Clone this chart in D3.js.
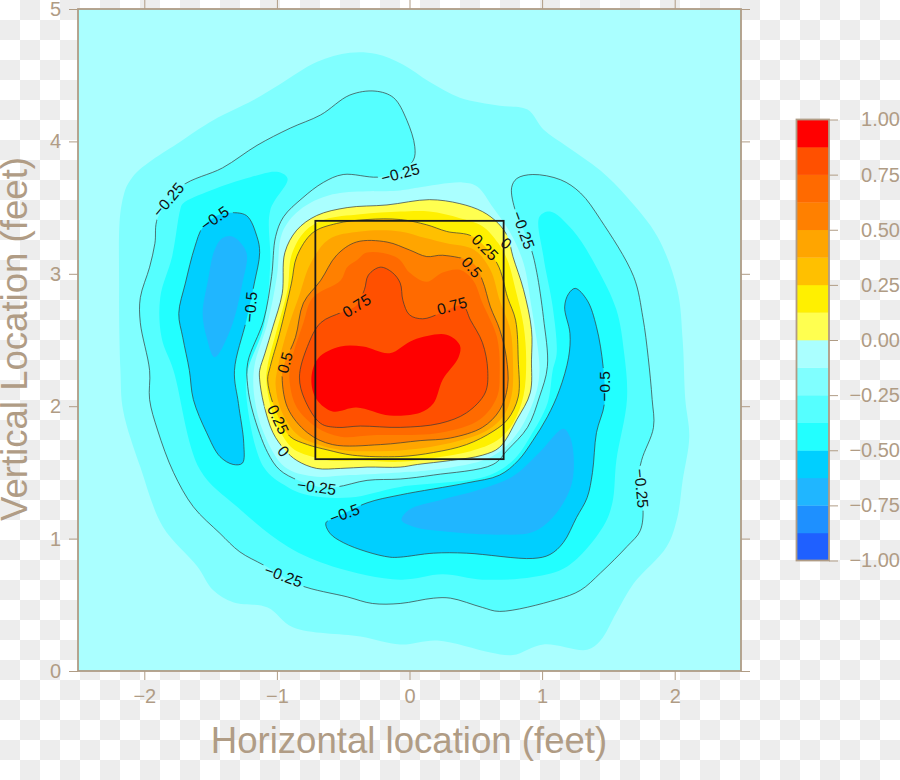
<!DOCTYPE html>
<html><head><meta charset="utf-8">
<script src="https://cdn.jsdelivr.net/npm/d3@7/dist/d3.min.js"></script>
<style>html,body{margin:0;padding:0;background:#fff}svg{display:block}text{font-family:"Liberation Sans",Arial,sans-serif}</style>
</head><body><div id="chart"></div>
<script>
// Colour-key breaks and colours, from -1 up to 1
const keyBreaks = [-1,-0.875,-0.75,-0.625,-0.5,-0.375,-0.25,-0.125,0,0.125,0.25,0.375,0.5,0.625,0.75,0.875,1];
const keyColors = ["#1F60FF","#1E90FF","#20B6FF","#00CFFF","#22FFFF","#55FFFF","#80FFFF","#AAFFFF","#FFFF50","#FFF000","#FFC000","#FFA500","#FF8000","#FF6A00","#FF5000","#FF0000"];
const keyTicks = [-1,-0.75,-0.5,-0.25,0,0.25,0.5,0.75,1];
const xTicks = [-2,-1,0,1,2];
const yTicks = [0,1,2,3,4,5];
const strikeZoneX = [-0.71,0.71];
const strikeZoneY = [1.6,3.4];

// Iso-lines: [horizontal ft, vertical ft]
const isoM0125Outer = [[-0.98,4.43],[-0.70,4.60],[-0.45,4.67],[-0.25,4.66],[-0.05,4.58],[0.15,4.45],[0.38,4.33],[0.68,4.27],[0.89,4.24],[1.01,4.09],[1.19,3.96],[1.44,3.78],[1.64,3.58],[1.87,3.28],[2.02,2.88],[2.06,2.50],[2.08,2.05],[2.11,1.77],[2.06,1.44],[2.02,1.16],[1.94,0.94],[1.69,0.66],[1.56,0.44],[1.44,0.23],[1.34,0.16],[1.01,0.20],[0.78,0.12],[0.61,0.14],[0.21,0.23],[-0.07,0.20],[-0.37,0.26],[-0.88,0.33],[-1.07,0.48],[-1.33,0.52],[-1.48,0.61],[-1.60,0.79],[-1.86,1.09],[-2.03,1.54],[-2.16,1.97],[-2.18,2.27],[-2.19,2.88],[-2.17,3.53],[-2.09,3.73],[-1.71,4.01],[-1.48,4.16],[-1.18,4.31]];
const isoM025 = [[-1.90,3.42],[-1.72,3.66],[-1.41,3.80],[-1.15,3.97],[-0.90,4.10],[-0.67,4.20],[-0.45,4.35],[-0.26,4.38],[-0.12,4.33],[-0.02,4.16],[0.04,3.96],[0.03,3.86],[-0.07,3.77],[-0.24,3.73],[-0.50,3.75],[-0.65,3.69],[-0.81,3.57],[-0.95,3.43],[-1.01,3.28],[-1.04,2.98],[-1.10,2.65],[-1.22,2.33],[-1.22,2.15],[-1.18,1.95],[-1.07,1.65],[-0.98,1.52],[-0.84,1.44],[-0.68,1.39],[-0.55,1.39],[-0.32,1.44],[-0.07,1.45],[0.18,1.48],[0.63,1.56],[0.74,1.67],[0.89,1.84],[0.98,2.07],[1.04,2.30],[1.01,2.67],[0.96,3.01],[0.92,3.18],[0.86,3.33],[0.80,3.47],[0.77,3.65],[0.81,3.72],[0.93,3.75],[1.14,3.71],[1.29,3.61],[1.44,3.41],[1.69,2.98],[1.76,2.67],[1.80,2.37],[1.83,2.05],[1.84,1.84],[1.75,1.59],[1.72,1.40],[1.76,1.24],[1.74,1.06],[1.64,0.94],[1.44,0.74],[1.29,0.61],[1.11,0.54],[0.68,0.45],[0.55,0.48],[0.31,0.55],[0.18,0.55],[-0.07,0.51],[-0.28,0.51],[-0.47,0.56],[-0.83,0.65],[-1.10,0.80],[-1.28,0.90],[-1.43,1.04],[-1.63,1.24],[-1.78,1.50],[-1.90,1.82],[-1.96,2.05],[-1.96,2.27],[-2.03,2.63],[-2.03,2.82],[-1.96,3.05],[-1.92,3.23]];
const isoM0375 = [[-0.92,3.72],[-1.05,3.48],[-1.05,3.08],[-1.10,2.60],[-1.22,2.27],[-1.23,2.07],[-1.10,1.54],[-0.92,1.39],[-0.77,1.33],[-0.45,1.31],[-0.07,1.39],[0.58,1.47],[0.78,1.59],[0.91,1.77],[1.04,2.02],[1.08,2.27],[1.11,2.40],[1.08,2.75],[1.01,3.13],[0.98,3.43],[1.06,3.47],[1.23,3.33],[1.41,3.05],[1.56,2.73],[1.62,2.39],[1.64,2.05],[1.56,1.59],[1.53,1.27],[1.46,1.09],[1.19,0.79],[0.93,0.71],[0.55,0.69],[0.25,0.73],[-0.07,0.69],[-0.58,0.79],[-0.92,0.94],[-1.30,1.24],[-1.58,1.52],[-1.78,2.27],[-1.87,2.52],[-1.88,2.82],[-1.79,3.13],[-1.73,3.48],[-1.71,3.53],[-1.50,3.63],[-1.20,3.73],[-1.00,3.77]];
const isoM05Left = [[-1.37,3.46],[-1.23,3.44],[-1.15,3.28],[-1.13,3.16],[-1.17,2.93],[-1.23,2.65],[-1.32,2.27],[-1.29,2.02],[-1.25,1.72],[-1.26,1.57],[-1.33,1.56],[-1.43,1.62],[-1.53,1.80],[-1.63,2.05],[-1.66,2.27],[-1.71,2.52],[-1.74,2.70],[-1.69,2.93],[-1.62,3.20],[-1.56,3.35],[-1.45,3.44]];
const isoM05Right = [[1.25,2.89],[1.34,2.80],[1.41,2.60],[1.46,2.30],[1.47,2.02],[1.41,1.80],[1.38,1.50],[1.34,1.31],[1.26,1.16],[1.16,0.97],[1.06,0.88],[0.93,0.85],[0.43,0.89],[0.18,0.89],[-0.07,0.86],[-0.15,0.86],[-0.32,0.90],[-0.50,0.97],[-0.60,1.04],[-0.63,1.12],[-0.55,1.16],[-0.32,1.27],[-0.07,1.33],[0.43,1.42],[0.68,1.48],[0.82,1.59],[0.93,1.74],[1.04,1.92],[1.13,2.12],[1.20,2.37],[1.21,2.55],[1.17,2.75],[1.20,2.85]];
const isoM0625Left = [[-1.33,3.28],[-1.23,3.16],[-1.26,2.93],[-1.35,2.58],[-1.47,2.37],[-1.53,2.52],[-1.56,2.70],[-1.52,2.95],[-1.47,3.18],[-1.41,3.27]];
const isoM0625Right = [[1.16,1.83],[1.21,1.77],[1.24,1.57],[1.21,1.37],[1.08,1.16],[0.93,1.05],[0.68,1.03],[0.31,1.05],[0.03,1.09],[-0.06,1.14],[0.00,1.22],[0.23,1.29],[0.53,1.37],[0.78,1.47],[0.98,1.65]];
const isoM0125Inner = [[-0.07,3.63],[-0.58,3.60],[-0.83,3.48],[-0.96,3.31],[-1.00,2.98],[-1.07,2.63],[-1.17,2.30],[-1.17,2.07],[-1.10,1.80],[-0.94,1.54],[-0.73,1.47],[-0.45,1.48],[-0.07,1.50],[0.18,1.52],[0.55,1.59],[0.71,1.68],[0.86,1.87],[0.96,2.12],[0.98,2.27],[0.97,2.42],[0.92,2.75],[0.86,3.08],[0.76,3.31],[0.63,3.50],[0.51,3.66],[0.40,3.69],[0.06,3.65]];
const isoZero = [[-1.13,2.27],[-1.09,2.40],[-1.03,2.60],[-0.96,2.85],[-0.94,3.16],[-0.85,3.33],[-0.70,3.44],[-0.47,3.50],[-0.17,3.52],[0.15,3.56],[0.38,3.53],[0.55,3.47],[0.67,3.38],[0.74,3.28],[0.78,3.13],[0.86,2.88],[0.92,2.58],[0.92,2.35],[0.91,2.10],[0.81,1.90],[0.68,1.69],[0.55,1.63],[0.31,1.59],[0.06,1.56],[-0.07,1.54],[-0.32,1.54],[-0.52,1.53],[-0.70,1.53],[-0.85,1.59],[-0.94,1.67],[-1.03,1.80],[-1.10,2.02],[-1.13,2.20]];
const isoP0125 = [[-0.07,3.47],[0.15,3.47],[0.38,3.42],[0.55,3.36],[0.67,3.23],[0.74,3.10],[0.80,2.88],[0.86,2.61],[0.88,2.35],[0.86,2.08],[0.78,1.87],[0.66,1.74],[0.46,1.66],[0.19,1.61],[-0.07,1.58],[-0.37,1.59],[-0.60,1.59],[-0.74,1.62],[-0.88,1.68],[-0.98,1.82],[-1.05,2.01],[-1.08,2.20],[-1.07,2.31],[-1.00,2.58],[-0.92,2.88],[-0.89,3.14],[-0.79,3.32],[-0.64,3.41],[-0.37,3.45]];
const isoP025 = [[0.48,3.28],[0.66,3.08],[0.74,2.82],[0.80,2.65],[0.82,2.35],[0.82,2.07],[0.74,1.90],[0.63,1.81],[0.43,1.71],[0.18,1.65],[-0.07,1.62],[-0.43,1.63],[-0.62,1.67],[-0.77,1.71],[-0.90,1.77],[-0.98,1.90],[-1.03,2.02],[-1.07,2.20],[-1.05,2.30],[-0.98,2.55],[-0.89,2.93],[-0.85,3.13],[-0.73,3.31],[-0.55,3.38],[-0.32,3.41],[-0.07,3.41],[0.13,3.37],[0.28,3.32]];
const isoP0375 = [[-0.07,3.32],[0.12,3.27],[0.28,3.23],[0.49,3.18],[0.61,3.03],[0.68,2.80],[0.76,2.58],[0.78,2.35],[0.77,2.08],[0.71,1.93],[0.59,1.82],[0.38,1.74],[0.08,1.68],[-0.22,1.66],[-0.52,1.67],[-0.69,1.71],[-0.84,1.78],[-0.96,1.95],[-1.01,2.16],[-0.99,2.31],[-0.92,2.58],[-0.83,2.84],[-0.75,3.07],[-0.61,3.26],[-0.37,3.32]];
const isoP05 = [[0.48,3.08],[0.25,3.14],[0.13,3.13],[0.00,3.18],[-0.17,3.24],[-0.40,3.24],[-0.55,3.14],[-0.67,2.95],[-0.80,2.78],[-0.86,2.52],[-0.94,2.33],[-0.96,2.25],[-0.92,1.99],[-0.77,1.80],[-0.58,1.71],[-0.22,1.71],[0.08,1.74],[0.31,1.76],[0.55,1.84],[0.68,1.97],[0.74,2.15],[0.73,2.37],[0.68,2.58],[0.61,2.75],[0.55,2.95]];
const isoP0625 = [[-0.40,3.10],[-0.32,3.16],[-0.09,3.12],[0.00,3.01],[0.13,2.94],[0.25,3.01],[0.38,3.03],[0.48,2.95],[0.55,2.78],[0.66,2.52],[0.68,2.25],[0.66,2.07],[0.53,1.90],[0.23,1.80],[-0.28,1.78],[-0.52,1.77],[-0.70,1.84],[-0.85,1.99],[-0.90,2.15],[-0.90,2.30],[-0.80,2.63],[-0.73,2.82],[-0.52,2.95],[-0.47,3.05]];
const isoP075 = [[-0.34,2.88],[-0.31,2.99],[-0.22,3.05],[-0.13,3.01],[-0.07,2.93],[-0.05,2.80],[0.00,2.69],[0.10,2.66],[0.23,2.70],[0.40,2.76],[0.46,2.65],[0.55,2.48],[0.59,2.27],[0.57,2.10],[0.43,1.95],[0.23,1.87],[-0.07,1.84],[-0.37,1.85],[-0.55,1.84],[-0.67,1.87],[-0.79,2.05],[-0.83,2.22],[-0.77,2.45],[-0.67,2.63],[-0.51,2.71],[-0.40,2.76]];
const isoP0875 = [[-0.74,2.20],[-0.69,2.36],[-0.52,2.45],[-0.35,2.45],[-0.15,2.40],[0.03,2.50],[0.28,2.54],[0.38,2.46],[0.37,2.37],[0.25,2.20],[0.18,2.02],[0.08,1.95],[-0.15,1.93],[-0.40,1.99],[-0.58,1.96],[-0.70,2.05]];

// Paint order: [outline, index of the colour in keyColors]
const fillOrder = [[isoM0125Outer,6],[isoM025,5],[isoM0375,4],[isoM05Left,3],[isoM05Right,3],[isoM0625Left,2],[isoM0625Right,2],[isoM0125Inner,7],[isoZero,8],[isoP0125,9],[isoP025,10],[isoP0375,11],[isoP05,12],[isoP0625,13],[isoP075,14],[isoP0875,15]];
const drawnLines = [isoM025,isoM05Left,isoM05Right,isoZero,isoP025,isoP05,isoP075];

// Contour labels
const labelText = ["−0.25","−0.5","−0.5","0.75","0.75","0.5","0.25","0","0.25","0.5","0","−0.25","−0.25","−0.25","−0.5","−0.5","−0.25","−0.25"];
const labelX = [-1.82,-1.47,-1.20,-0.40,0.32,-0.94,-0.99,-0.95,0.57,0.47,0.73,0.86,-0.07,-0.70,-0.49,1.47,1.75,-0.95];
const labelY = [3.56,3.42,2.75,2.76,2.76,2.33,1.90,1.66,3.20,3.05,3.23,3.33,3.76,1.39,1.19,2.15,1.38,0.72];
const labelAngle = [-50,-35,-85,-32,-15,-75,65,50,45,50,40,70,-15,8,-20,-90,85,20];

const W = 900, H = 780, INK = "#B09C85";
const x = d3.scaleLinear().domain([-2.5,2.5]).range([78,741]);
const y = d3.scaleLinear().domain([0,5]).range([671,9]);
const keyY = d3.scaleLinear().domain([-1,1]).range([560.5,119.5]);

const svg = d3.select("#chart").append("svg").attr("width",W).attr("height",H);
const defs = svg.append("defs");
const pat = defs.append("pattern").attr("id","checks").attr("width",40).attr("height",40).attr("patternUnits","userSpaceOnUse");
pat.append("rect").attr("width",40).attr("height",40).attr("fill","#fff");
pat.selectAll("rect.c").data([[20,0],[0,20]]).enter().append("rect").attr("class","c")
  .attr("x",d=>d[0]).attr("y",d=>d[1]).attr("width",20).attr("height",20).attr("fill","#EDEDED");
svg.append("rect").attr("width",W).attr("height",H).attr("fill","url(#checks)");

defs.append("clipPath").attr("id","panel").append("rect").attr("x",x(-2.5)).attr("y",y(5)).attr("width",x(2.5)-x(-2.5)).attr("height",y(0)-y(5));

// Gaps in the lines where labels sit
const mask = defs.append("mask").attr("id","gaps").attr("maskUnits","userSpaceOnUse").attr("x",0).attr("y",0).attr("width",W).attr("height",H);
mask.append("rect").attr("width",W).attr("height",H).attr("fill","#fff");
labelText.forEach((t,i)=>{
  const w = t.length*8.4+3;
  mask.append("rect").attr("x",-w/2).attr("y",-7).attr("width",w).attr("height",14).attr("fill","#000")
    .attr("transform",`translate(${x(labelX[i])},${y(labelY[i])}) rotate(${labelAngle[i]})`);
});

const panel = svg.append("g").attr("clip-path","url(#panel)");
panel.append("rect").attr("x",x(-2.5)).attr("y",y(5)).attr("width",x(2.5)-x(-2.5)).attr("height",y(0)-y(5)).attr("fill",keyColors[7]);
const curve = d3.line().x(d=>x(d[0])).y(d=>y(d[1])).curve(d3.curveCatmullRomClosed.alpha(0.5));
panel.selectAll("path.band").data(fillOrder).enter().append("path").attr("class","band")
  .attr("d",d=>curve(d[0])).attr("fill",d=>keyColors[d[1]]);
panel.append("g").attr("mask","url(#gaps)").selectAll("path").data(drawnLines).enter().append("path")
  .attr("d",curve).attr("fill","none").attr("stroke","#3a3a3a").attr("stroke-width",0.7);
panel.selectAll("text.lab").data(labelText).enter().append("text").attr("class","lab")
  .attr("transform",(d,i)=>`translate(${x(labelX[i])},${y(labelY[i])}) rotate(${labelAngle[i]})`)
  .attr("text-anchor","middle").attr("dy","0.36em").attr("font-size",15.5).attr("fill","#111").text(d=>d);

svg.append("rect").attr("x",x(strikeZoneX[0])).attr("y",y(strikeZoneY[1]))
  .attr("width",x(strikeZoneX[1])-x(strikeZoneX[0])).attr("height",y(strikeZoneY[0])-y(strikeZoneY[1]))
  .attr("fill","none").attr("stroke","#1a1a1a").attr("stroke-width",1.8);

function style(g,size){
  g.select(".domain").remove();
  g.selectAll(".tick line").attr("stroke",INK).attr("stroke-width",1);
  g.selectAll(".tick text").attr("fill",INK).attr("font-size",size).attr("font-family",'"Liberation Sans",Arial,sans-serif');
}
const fmt = d3.format("d");
svg.append("g").attr("transform",`translate(0,${y(0)})`).call(d3.axisBottom(x).tickValues(xTicks).tickFormat(fmt).tickSize(9).tickPadding(9)).call(style,20);
svg.append("g").attr("transform",`translate(0,${y(5)})`).call(d3.axisTop(x).tickValues(xTicks).tickFormat("").tickSize(9)).call(style,20);
svg.append("g").attr("transform",`translate(${x(-2.5)},0)`).call(d3.axisLeft(y).tickValues(yTicks).tickFormat(fmt).tickSize(9).tickPadding(8)).call(style,20);
svg.append("g").attr("transform",`translate(${x(2.5)},0)`).call(d3.axisRight(y).tickValues(yTicks).tickFormat("").tickSize(9)).call(style,20);
svg.append("rect").attr("x",x(-2.5)).attr("y",y(5)).attr("width",x(2.5)-x(-2.5)).attr("height",y(0)-y(5))
  .attr("fill","none").attr("stroke",INK).attr("stroke-width",1.8);

svg.append("text").attr("x",409).attr("y",753).attr("text-anchor","middle").attr("font-size",36.6).attr("fill",INK).text("Horizontal location (feet)");
svg.append("text").attr("transform","translate(27,339) rotate(-90)").attr("text-anchor","middle").attr("font-size",36.6).attr("fill",INK).text("Vertical Location (feet)");

// Colour key
const keyG = svg.append("g");
keyG.selectAll("rect").data(keyColors).enter().append("rect")
  .attr("x",796.5).attr("width",32.5)
  .attr("y",(d,i)=>keyY(keyBreaks[i+1])).attr("height",(d,i)=>keyY(keyBreaks[i])-keyY(keyBreaks[i+1])+0.3)
  .attr("fill",d=>d);
const keyAxis = svg.append("g").attr("transform","translate(829,0)")
  .call(d3.axisRight(keyY).tickValues(keyTicks).tickFormat(d3.format(".2f")).tickSize(9).tickPadding(0)).call(style,20);
keyAxis.selectAll(".tick text").attr("text-anchor","end").attr("x",71);
svg.append("rect").attr("x",796.5).attr("y",keyY(1)).attr("width",32.5).attr("height",keyY(-1)-keyY(1))
  .attr("fill","none").attr("stroke",INK).attr("stroke-width",1.8);
</script></body></html>
